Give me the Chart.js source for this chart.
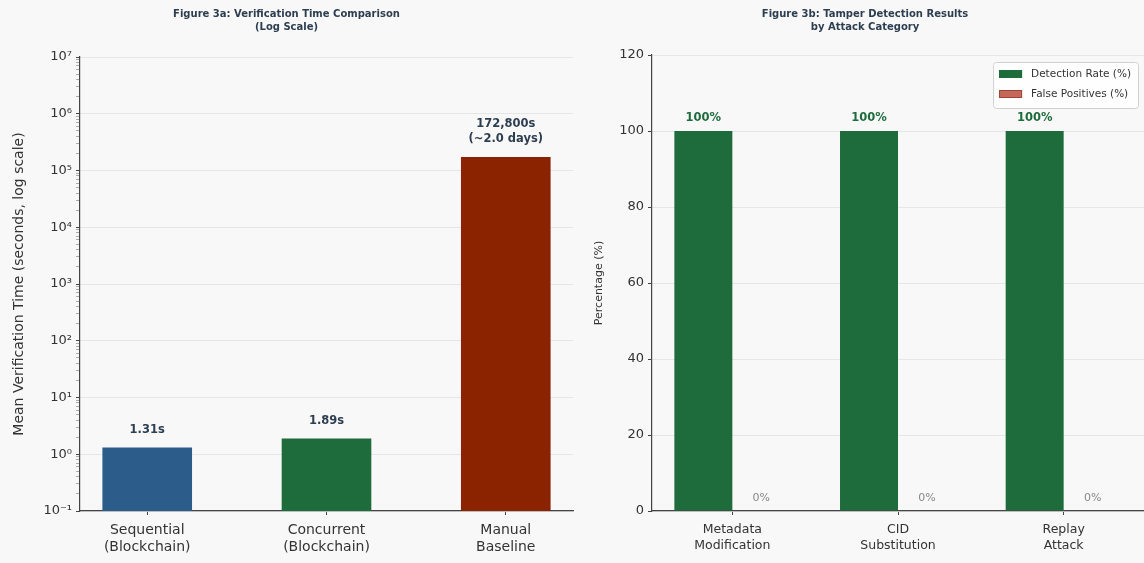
<!DOCTYPE html>
<html><head><meta charset="utf-8">
<script src="https://cdn.jsdelivr.net/npm/chart.js@4.4.1/dist/chart.umd.min.js"></script>
<style>
html,body{margin:0;padding:0;background:#f8f8f8;}
#wrap{position:relative;width:1144px;height:563px;overflow:hidden;background:#f8f8f8;}
#c1{position:absolute;left:0;top:0;}
#c2{position:absolute;left:574px;top:0;}
</style></head><body>
<div id="wrap"><canvas id="c1" width="574" height="563"></canvas><canvas id="c2" width="570" height="563"></canvas></div>
<script>
// ---- Figure 3a data ----
const methods = [['Sequential','(Blockchain)'],['Concurrent','(Blockchain)'],['Manual','Baseline']];
const verifyTimes = [1.31, 1.89, 172800];
const timeLabels = [['1.31s'],['1.89s'],['172,800s','(~2.0 days)']];
const methodColors = ['#2b5c8a','#1e6b3c','#8b2200'];
const logTickValues = [0.1,1,10,100,1000,10000,100000,1000000,10000000];
const logTickLabels = ['10\u207B\u00B9','10\u2070','10\u00B9','10\u00B2','10\u00B3','10\u2074','10\u2075','10\u2076','10\u2077'];

// ---- Figure 3b data ----
const attacks = [['Metadata','Modification'],['CID','Substitution'],['Replay','Attack']];
const detectionRate = [100,100,100];
const falsePositives = [0,0,0];
const pctTicks = [0,20,40,60,80,100,120];
const seriesNames = ['Detection Rate (%)','False Positives (%)'];
const seriesColors = ['#1e6b3c','#c4695a'];

const FONT = "'DejaVu Sans', sans-serif";
const AXIS = '#444';
const GRID = '#e6e6e6';
const TXT = '#333';
const NAVY = '#2c3e50';

// ---------- Chart 1 ----------
const barLabelPlugin = {
  id: 'barLabels',
  afterDatasetsDraw(chart) {
    const ctx = chart.ctx;
    const meta = chart.getDatasetMeta(0);
    ctx.save();
    ctx.font = 'bold 11.5px ' + FONT;
    ctx.fillStyle = NAVY;
    ctx.textAlign = 'center';
    ctx.textBaseline = 'middle';
    meta.data.forEach((bar, i) => {
      const lines = timeLabels[i];
      lines.forEach((t, j) => {
        ctx.fillText(t, bar.x, bar.y - 18 - (lines.length - 1 - j) * 15);
      });
    });
    ctx.restore();
  }
};

new Chart(document.getElementById('c1'), {
  type: 'bar',
  data: {
    datasets: [{
      data: verifyTimes.map((v, i) => ({x: i, y: v})),
      backgroundColor: methodColors,
      borderWidth: 0,
      categoryPercentage: 1,
      barPercentage: 0.5
    }]
  },
  options: {
    responsive: false,
    animation: false,
    layout: {padding: {top: 0, right: 1, left: 0, bottom: 0}},
    plugins: {
      legend: {display: false},
      tooltip: {enabled: false},
      title: {
        display: true,
        text: ['Figure 3a: Verification Time Comparison', '(Log Scale)'],
        color: NAVY,
        font: {family: FONT, size: 10, weight: 'bold', lineHeight: 1.3},
        padding: {top: 8, bottom: 23}
      }
    },
    scales: {
      x: {
        type: 'linear', min: -0.375, max: 2.375, offset: false,
        afterBuildTicks: s => { s.ticks = methods.map((m, i) => ({value: i})); },
        afterFit: s => { s.height = 52; },
        ticks: {callback: v => methods[v], color: TXT, font: {family: FONT, size: 14, lineHeight: 1.2}, padding: 7, autoSkip: false, maxRotation: 0},
        grid: {display: true, drawOnChartArea: false, drawTicks: true, tickLength: 4, color: AXIS, offset: false},
        border: {display: true, color: AXIS, width: 1.2}
      },
      y: {
        type: 'logarithmic', min: 0.1, max: 1e7,
        afterBuildTicks: s => {
          const t = [];
          logTickValues.forEach((v, i) => {
            t.push({value: v, major: true, label: logTickLabels[i]});
            if (i < logTickValues.length - 1) {
              for (let k = 2; k <= 9; k++) t.push({value: v * k, major: false});
            }
          });
          s.ticks = t;
        },
        afterFit: s => { s.width = 80; },
        ticks: {
          callback: (v, i, ticks) => ticks[i].major ? ticks[i].label : '',
          autoSkip: false, color: TXT, font: {family: FONT, size: 13}, padding: 4
        },
        grid: {
          color: c => (c.tick && c.tick.major) ? GRID : 'rgba(0,0,0,0)',
          tickColor: c => (c.tick && c.tick.major) ? AXIS : '#888',
          tickLength: 4, tickWidth: c => (c.tick && c.tick.major) ? 1 : 0.7
        },
        border: {display: true, color: AXIS, width: 1.2},
        title: {display: true, text: 'Mean Verification Time (seconds, log scale)', color: TXT, font: {family: FONT, size: 14}, padding: {top: 11, bottom: 0}}
      }
    }
  },
  plugins: [barLabelPlugin]
});

// ---------- Chart 2 ----------
const pctLabelPlugin = {
  id: 'pctLabels',
  afterDatasetsDraw(chart) {
    const ctx = chart.ctx;
    ctx.save();
    ctx.textAlign = 'center';
    ctx.textBaseline = 'middle';
    ctx.font = 'bold 11.5px ' + FONT;
    ctx.fillStyle = '#1e6b3c';
    chart.getDatasetMeta(0).data.forEach((bar, i) => ctx.fillText(detectionRate[i] + '%', bar.x, bar.y - 13));
    ctx.font = '11px ' + FONT;
    ctx.fillStyle = '#888';
    chart.getDatasetMeta(1).data.forEach((bar, i) => ctx.fillText(falsePositives[i] + '%', bar.x, bar.y - 13));
    ctx.restore();
  }
};
const boxLegendPlugin = {
  id: 'boxLegend',
  afterDraw(chart) {
    const ctx = chart.ctx, a = chart.chartArea;
    ctx.save();
    ctx.font = '10.5px ' + FONT;
    const names = chart.data.datasets.map(d => d.label);
    const tw = Math.max(...names.map(n => ctx.measureText(n).width));
    const w = tw + 45, h = 46;
    const x0 = a.right - 6 - w, y0 = a.top + 7;
    ctx.fillStyle = 'rgba(255,255,255,0.8)';
    ctx.strokeStyle = '#d0d0d0';
    ctx.lineWidth = 1;
    ctx.beginPath();
    ctx.roundRect(x0 + 0.5, y0 + 0.5, w, h, 3);
    ctx.fill(); ctx.stroke();
    chart.data.datasets.forEach((d, i) => {
      const cy = y0 + 12 + i * 20;
      ctx.fillStyle = d.backgroundColor;
      ctx.fillRect(x0 + 6, cy - 4, 23, 8);
      ctx.strokeStyle = d.borderColor;
      ctx.strokeRect(x0 + 6.5, cy - 3.5, 22, 7);
      ctx.fillStyle = TXT;
      ctx.textAlign = 'left';
      ctx.textBaseline = 'middle';
      ctx.fillText(d.label, x0 + 38, cy);
    });
    ctx.restore();
  }
};

new Chart(document.getElementById('c2'), {
  type: 'bar',
  data: {
    datasets: [
      {label: seriesNames[0], data: detectionRate.map((v, i) => ({x: i, y: v})), backgroundColor: seriesColors[0], borderColor: '#1e6b3c', borderWidth: 0, categoryPercentage: 0.7, barPercentage: 1},
      {label: seriesNames[1], data: falsePositives.map((v, i) => ({x: i, y: v})), backgroundColor: seriesColors[1], borderColor: '#a04535', borderWidth: 0, categoryPercentage: 0.7, barPercentage: 1}
    ]
  },
  options: {
    responsive: false,
    animation: false,
    layout: {padding: {top: 0, right: 0, left: 12, bottom: 0}},
    plugins: {
      legend: {display: false},
      tooltip: {enabled: false},
      title: {
        display: true,
        text: ['Figure 3b: Tamper Detection Results', 'by Attack Category'],
        color: NAVY,
        font: {family: FONT, size: 10, weight: 'bold', lineHeight: 1.3},
        padding: {top: 8, bottom: 21}
      }
    },
    scales: {
      x: {
        type: 'linear', min: -0.485, max: 2.485, offset: false,
        afterBuildTicks: s => { s.ticks = attacks.map((m, i) => ({value: i})); },
        afterFit: s => { s.height = 52; },
        ticks: {callback: v => attacks[v], color: TXT, font: {family: FONT, size: 12.5, lineHeight: 1.28}, padding: 7, autoSkip: false, maxRotation: 0},
        grid: {display: true, drawOnChartArea: false, drawTicks: true, tickLength: 4, color: AXIS, offset: false},
        border: {display: true, color: AXIS, width: 1.2}
      },
      y: {
        type: 'linear', min: 0, max: 120,
        afterBuildTicks: s => { s.ticks = pctTicks.map(v => ({value: v})); },
        afterFit: s => { s.width = 66; },
        ticks: {color: TXT, font: {family: FONT, size: 13}, padding: 4},
        grid: {color: GRID, tickColor: AXIS, tickLength: 4},
        border: {display: true, color: AXIS, width: 1.2},
        title: {display: true, text: 'Percentage (%)', color: TXT, font: {family: FONT, size: 11}, padding: {top: 7, bottom: 0}}
      }
    }
  },
  plugins: [pctLabelPlugin, boxLegendPlugin]
});
</script>
</body></html>
